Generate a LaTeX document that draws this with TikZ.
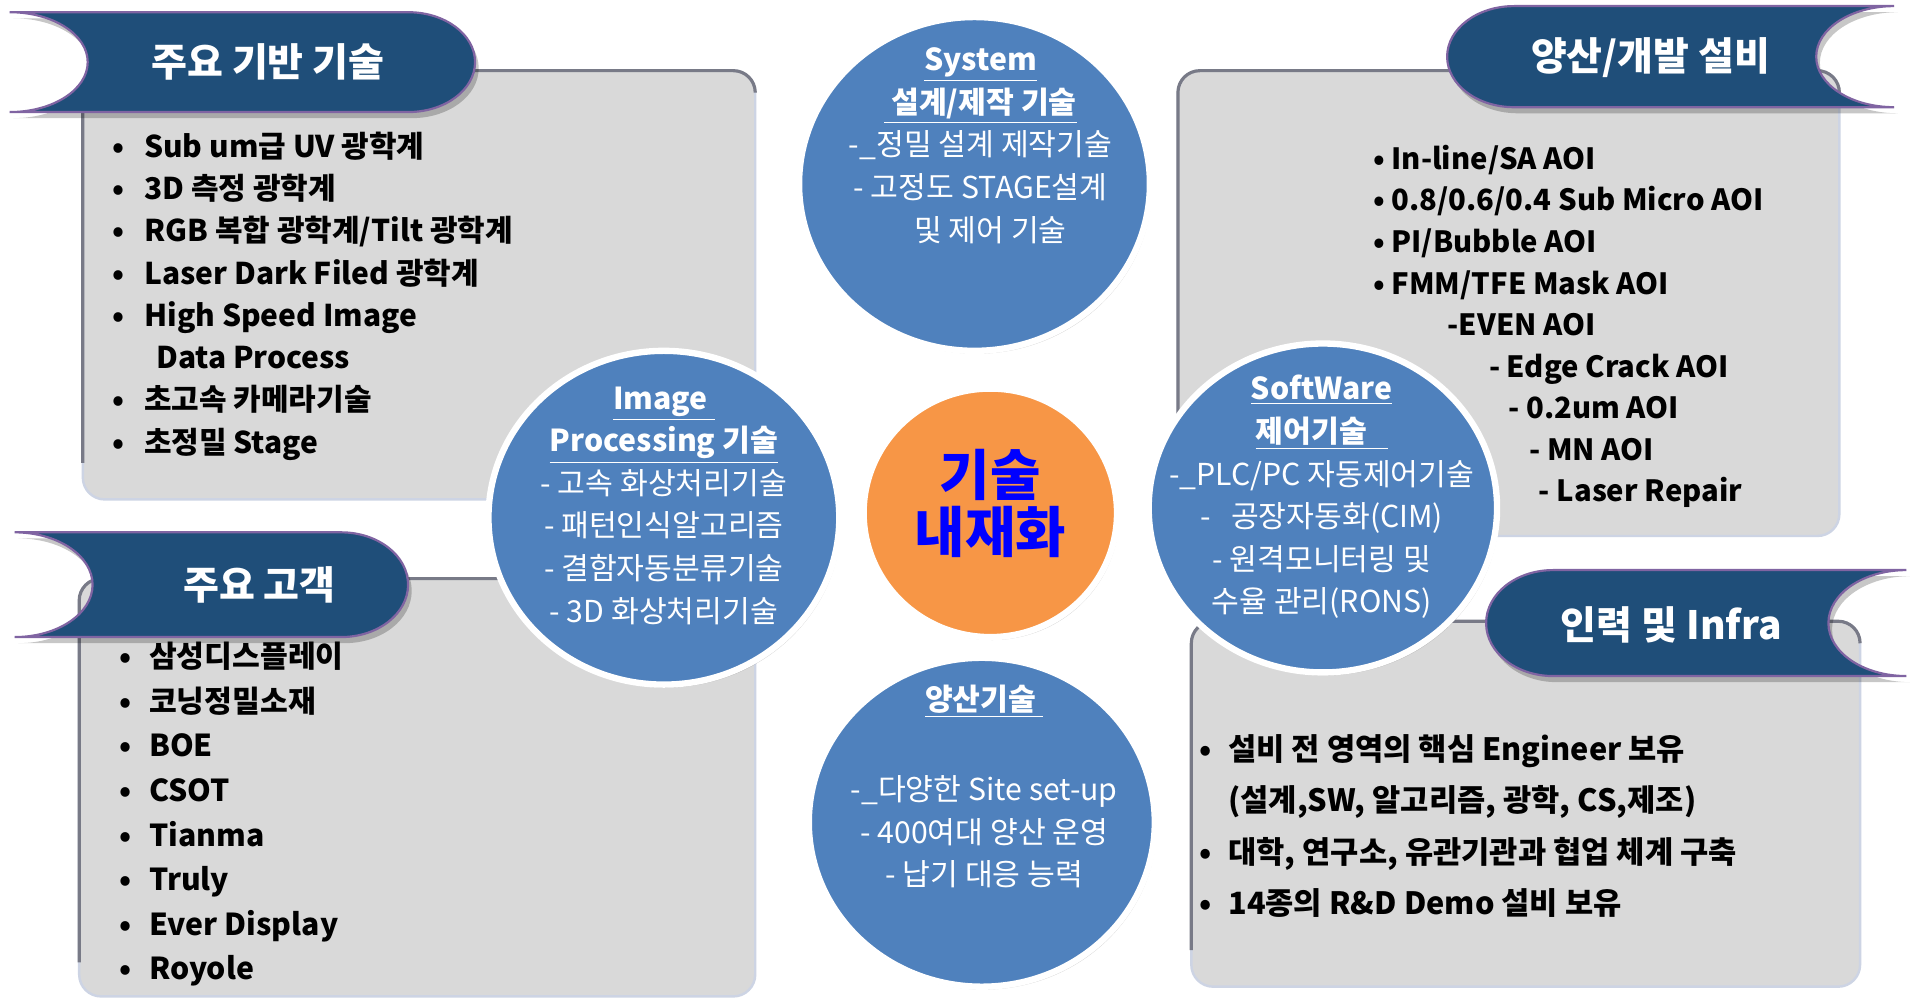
\documentclass[tikz,border=0pt]{standalone}
\usepackage{fontspec}
\setmainfont{Noto Sans CJK KR}
\usetikzlibrary{shapes.geometric,backgrounds,shadows}
\definecolor{bannerblue}{RGB}{31,78,121}
\definecolor{bannerline}{RGB}{128,100,162}
\definecolor{boxfill}{RGB}{217,217,217}
\definecolor{boxline}{RGB}{120,122,135}
\definecolor{boxedge}{RGB}{205,212,228}
\definecolor{ellblue}{RGB}{79,129,189}
\definecolor{coreorange}{RGB}{247,150,70}
\definecolor{linegray}{RGB}{127,127,127}
\newcommand\mybul[1]{\makebox[#1][l]{•}}
\begin{document}
\begin{tikzpicture}[x=0.5pt,y=0.5pt,
  panel/.style={fill=boxfill, draw=boxedge, line width=1pt, rounded corners=9pt},
  paneltop/.style={draw=boxline, line width=1.3pt, rounded corners=9pt},
  bannershape/.style={fill=bannerblue, draw=bannerline, line width=0.9pt,
    general shadow={fill=black, opacity=0.22, shadow xshift=1.5pt, shadow yshift=-2.5pt}},
  bannertext/.style={text=white, inner sep=0pt, font=\fontsize{16pt}{19pt}\selectfont\bfseries},
  bubble/.style={ellipse, fill=ellblue, draw=white, line width=2.6pt, inner sep=0pt,
    general shadow={fill=black, opacity=0.18, shadow xshift=0.8pt, shadow yshift=-1.2pt}},
  corebubble/.style={ellipse, fill=coreorange, draw=white, line width=2.6pt, inner sep=0pt,
    general shadow={fill=black, opacity=0.18, shadow xshift=0.8pt, shadow yshift=-1.2pt}},
  bubtext/.style={text=white, align=center, inner sep=0pt, font=\fontsize{12.4pt}{17.5pt}\selectfont},
  coretext/.style={text=blue, align=center, inner sep=0pt, font=\fontsize{22.5pt}{23.5pt}\selectfont\bfseries},
  connector/.style={draw=linegray, line width=1pt}
]
\useasboundingbox (0,0) rectangle (1568,-820);
\fill[white] (0,0) rectangle (1568,-820);

% gray panels
\path[panel] (68,-58) rectangle (620,-410);
\draw[paneltop] (68,-380) -- (68,-58) -- (620,-58) -- (620,-75);
\path[panel] (967,-58) rectangle (1510,-440);
\draw[paneltop] (967,-400) -- (967,-58) -- (1510,-58) -- (1510,-75);
\path[panel] (65,-475) rectangle (620,-818);
\draw[paneltop] (65,-790) -- (65,-475) -- (620,-475) -- (620,-492);
\path[panel] (978,-510) rectangle (1527,-810);
\draw[paneltop] (978,-780) -- (978,-510) -- (1527,-510) -- (1527,-527);

% banners
\path[bannershape] (8,-10) -- (335,-10) arc[start angle=90, end angle=-90, x radius=55, y radius=41]
  -- (8,-92) arc[start angle=-90, end angle=90, x radius=64, y radius=41] -- cycle;
\path[bannershape] (1555,-5) -- (1243,-5) arc[start angle=90, end angle=270, x radius=55, y radius=41.5]
  -- (1555,-88) arc[start angle=270, end angle=90, x radius=64, y radius=41.5] -- cycle;
\path[bannershape] (12,-437) -- (280,-437) arc[start angle=90, end angle=-90, x radius=55, y radius=43]
  -- (12,-523) arc[start angle=-90, end angle=90, x radius=64, y radius=43] -- cycle;
\path[bannershape] (1565,-468) -- (1275,-468) arc[start angle=90, end angle=270, x radius=55, y radius=43.5]
  -- (1565,-555) arc[start angle=270, end angle=90, x radius=64, y radius=43.5] -- cycle;

\node[bannertext] (t1) at (220,-51) {주요 기반 기술};
\node[bannertext] (t2) at (1355,-47) {양산/개발 설비};
\node[bannertext] (t3) at (213,-480) {주요 고객};
\node[bannertext] (t4) at (1372,-513) {인력 및 Infra};

% panel texts
\node[anchor=west, align=left, inner sep=0pt, font=\fontsize{12.3pt}{17.35pt}\selectfont\bfseries] (p1) at (92,-243) {%
\mybul{13pt}Sub um급 UV 광학계\\
\mybul{13pt}3D 측정 광학계\\
\mybul{13pt}RGB 복합 광학계/Tilt 광학계\\
\mybul{13pt}Laser Dark Filed 광학계\\
\mybul{13pt}High Speed Image\\
\hspace*{18pt}Data Process\\
\mybul{13pt}초고속 카메라기술\\
\mybul{13pt}초정밀 Stage};

\node[anchor=west, align=left, inner sep=0pt, font=\fontsize{12pt}{17.05pt}\selectfont\bfseries] (p2) at (1127,-268) {%
\mybul{7.5pt}In-line/SA AOI\\
\mybul{7.5pt}0.8/0.6/0.4 Sub Micro AOI\\
\mybul{7.5pt}PI/Bubble AOI\\
\mybul{7.5pt}FMM/TFE Mask AOI\\
\hspace*{30.5pt}-EVEN AOI\\
\hspace*{47.5pt}- Edge Crack AOI\\
\hspace*{55.5pt}- 0.2um AOI\\
\hspace*{64pt}- MN AOI\\
\hspace*{68pt}- Laser Repair};

\node[anchor=west, align=left, inner sep=0pt, font=\fontsize{12.4pt}{18.3pt}\selectfont\bfseries] (p3) at (98,-668.5) {%
\mybul{12pt}삼성디스플레이\\
\mybul{12pt}코닝정밀소재\\
\mybul{12pt}BOE\\
\mybul{12pt}CSOT\\
\mybul{12pt}Tianma\\
\mybul{12pt}Truly\\
\mybul{12pt}Ever Display\\
\mybul{12pt}Royole};

\node[anchor=west, align=left, inner sep=0pt, font=\fontsize{12.6pt}{21.17pt}\selectfont\bfseries] (p4) at (984,-678) {%
\mybul{12pt}설비 전 영역의 핵심 Engineer 보유\\
\hspace*{12pt}(설계,SW, 알고리즘, 광학, CS,제조)\\
\mybul{12pt}대학, 연구소, 유관기관과 협업 체계 구축\\
\mybul{12pt}14종의 R\&D Demo 설비 보유};

% bubbles
\node[bubble, minimum width=144pt, minimum height=137pt] (sys) at (800,-151) {};
\node[bubble, minimum width=144pt, minimum height=137pt] (img) at (545,-425) {};
\node[bubble, minimum width=143pt, minimum height=135pt] (sw) at (1086,-417) {};
\node[bubble, minimum width=142pt, minimum height=135pt] (mass) at (806,-675) {};
\node[corebubble, minimum width=104pt, minimum height=102pt] (core) at (813,-421) {};

\begin{pgfonlayer}{background}
\draw[connector] (sys) -- (core);
\draw[connector] (img) -- (core);
\draw[connector] (core) -- (sw);
\draw[connector] (core) -- (mass);
\end{pgfonlayer}

% bubble texts
\node[bubtext] (systxt) at (805,-119.5) {%
\underline{\textbf{System}}\\
\underline{\textbf{~설계/제작 기술}}\\
-\_정밀 설계 제작기술\\
- 고정도 STAGE설계\\
\hspace*{8pt}및 제어 기술};
\node[bubtext] (imgtxt) at (545,-415) {%
\underline{\textbf{Image~}}\\
\underline{\textbf{Processing 기술}}\\
- 고속 화상처리기술\\
- 패턴인식알고리즘\\
- 결함자동분류기술\\
- 3D 화상처리기술};
\node[bubtext] (swtxt) at (1085,-408) {%
\underline{\textbf{SoftWare}}\\
\underline{\textbf{제어기술~~~}}\\
-\_PLC/PC 자동제어기술\\
-~~~공장자동화(CIM)\\
- 원격모니터링 및\\
수율 관리(RONS)};
\node[bubtext] (masstitle) at (808,-576) {\underline{\textbf{양산기술~}}};
\node[bubtext] (masstxt) at (808,-683) {%
-\_다양한 Site set-up\\
- 400여대 양산 운영\\
- 납기 대응 능력};
\node[coretext] (coretxt) at (813,-413.5) {기술\\내재화};
\end{tikzpicture}
\end{document}
